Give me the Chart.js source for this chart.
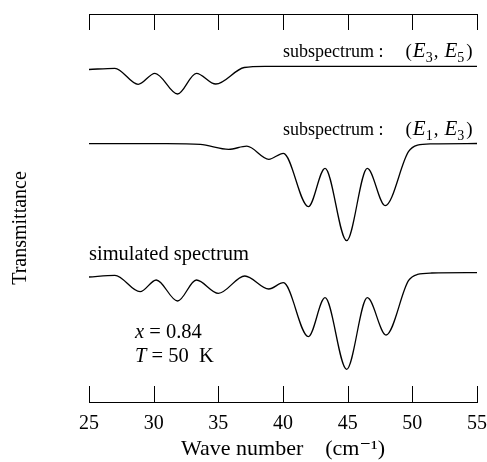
<!DOCTYPE html>
<html>
<head>
<meta charset="utf-8">
<script src="https://cdn.jsdelivr.net/npm/chart.js@4.4.1/dist/chart.umd.min.js"></script>
<style>
  html, body { margin: 0; padding: 0; background: #fff; }
  #wrap { width: 487px; height: 462px; }
</style>
</head>
<body>
<div id="wrap"><canvas id="c" width="487" height="462"></canvas></div>
<script>
// Wave numbers (cm^-1) and transmittance (arbitrary units, offset stacking)
const subE3E5X = [25.0, 27.0, 28.8, 30.1, 31.85, 33.3, 34.8, 37.0, 38.6, 55.0];
const subE3E5Y = [332.5, 333.7, 317.7, 328.7, 308, 328.7, 318, 334.5, 335.7, 335.7];

const subE1E3X = [25.0, 31.0, 33.6, 35.8, 37.2, 38.9, 40.03, 41.96, 43.25, 44.92, 46.52, 47.9, 49.7, 50.4, 51.5, 55.0];
const subE1E3Y = [258.3, 258.3, 257.6, 252.7, 255.8, 242.7, 248.7, 195.3, 233.7, 161.3, 233.7, 196.3, 250.3, 256.8, 258.2, 258.5];

const simX = [25.0, 27.0, 28.95, 30.2, 31.85, 33.3, 35.0, 37.05, 38.9, 40.03, 41.96, 43.25, 44.92, 46.52, 47.97, 49.7, 50.4, 51.5, 55.0];
const simY = [125.0, 126.7, 110.3, 122, 101, 122, 108.7, 126, 113, 119.3, 65.3, 104.3, 32.7, 104.3, 67, 121.3, 127.6, 129, 129.3];

const xTicks = [25, 30, 35, 40, 45, 50, 55];
const xMin = 25, xMax = 55;
const yMin = 0, yMax = 388;

const toPts = (xs, ys) => xs.map((x, i) => ({ x: x, y: ys[i] }));

const SERIF = '"Liberation Serif", "DejaVu Serif", serif';

// segs: {t, size, italic, dy, gap}
function drawRich(ctx, x, y, segs) {
  let cx = x;
  ctx.textBaseline = 'alphabetic';
  ctx.textAlign = 'left';
  ctx.fillStyle = '#000';
  segs.forEach(s => {
    cx += s.gap || 0;
    ctx.font = (s.italic ? 'italic ' : '') + s.size + 'px ' + SERIF;
    ctx.fillText(s.t, cx, y + (s.dy || 0));
    cx += ctx.measureText(s.t).width;
  });
}

function subLabel(a, b) {
  return [
    { t: 'subspectrum :', size: 18 },
    { t: '(', size: 19, gap: 22 },
    { t: 'E', size: 21, italic: true, gap: 1 },
    { t: a, size: 14, dy: 5, gap: 0 },
    { t: ',', size: 19, gap: 1 },
    { t: 'E', size: 21, italic: true, gap: 6 },
    { t: b, size: 14, dy: 5, gap: 0 },
    { t: ')', size: 19, gap: 2 }
  ];
}

const decor = {
  id: 'decor',
  afterDraw(chart) {
    const ctx = chart.ctx;
    const xs = chart.scales.x;
    const a = chart.chartArea;
    ctx.save();
    ctx.strokeStyle = '#000';
    ctx.lineWidth = 1;
    ctx.beginPath();
    xTicks.forEach(v => {
      const px = Math.round(xs.getPixelForValue(v)) + 0.5;
      ctx.moveTo(px, a.bottom); ctx.lineTo(px, a.bottom - 16);
      ctx.moveTo(px, a.top); ctx.lineTo(px, a.top + 16);
    });
    ctx.stroke();

    const lblX = xs.getPixelForValue(40);
    drawRich(ctx, lblX, 57, subLabel('3', '5'));
    drawRich(ctx, lblX, 135, subLabel('1', '3'));
    const left = xs.getPixelForValue(xMin);
    drawRich(ctx, left, 260, [{ t: 'simulated spectrum', size: 20.5 }]);
    drawRich(ctx, left + 46, 338, [{ t: 'x', size: 20.5, italic: true }, { t: ' = 0.84', size: 20.5 }]);
    drawRich(ctx, left + 46, 362, [{ t: 'T', size: 20.5, italic: true }, { t: ' = 50  K', size: 20.5 }]);
    ctx.restore();
  }
};

const lineStyle = {
  borderColor: '#000',
  borderWidth: 1.3,
  pointRadius: 0,
  fill: false,
  cubicInterpolationMode: 'monotone'
};

new Chart(document.getElementById('c'), {
  type: 'line',
  data: {
    datasets: [
      Object.assign({ label: 'subspectrum (E3, E5)', data: toPts(subE3E5X, subE3E5Y) }, lineStyle),
      Object.assign({ label: 'subspectrum (E1, E3)', data: toPts(subE1E3X, subE1E3Y) }, lineStyle),
      Object.assign({ label: 'simulated spectrum', data: toPts(simX, simY) }, lineStyle)
    ]
  },
  options: {
    responsive: false,
    animation: false,
    devicePixelRatio: 1,
    layout: { padding: { left: 0, right: 0, top: 0, bottom: 0 } },
    plugins: { legend: { display: false }, tooltip: { enabled: false } },
    scales: {
      x: {
        type: 'linear', position: 'bottom', min: xMin, max: xMax,
        afterBuildTicks: s => { s.ticks = xTicks.map(v => ({ value: v })); },
        afterFit: s => { s.height = 60; },
        grid: { display: true, drawOnChartArea: false, drawTicks: true, tickLength: 10, color: 'rgba(0,0,0,0)' },
        border: { display: true, color: '#000', width: 1 },
        ticks: { color: '#000', padding: 0, font: { family: SERIF, size: 20 }, maxRotation: 0 },
        title: { display: true, text: 'Wave number    (cm⁻¹)', color: '#000', font: { family: SERIF, size: 22 }, padding: { top: 0, bottom: 0 } }
      },
      x2: {
        type: 'linear', position: 'top', min: xMin, max: xMax,
        afterFit: s => { s.height = 14; },
        grid: { display: false, drawTicks: false },
        border: { display: true, color: '#000', width: 1 },
        ticks: { display: false }
      },
      y: {
        type: 'linear', position: 'left', min: yMin, max: yMax,
        afterFit: s => { s.width = 89; },
        grid: { display: false, drawTicks: false },
        border: { display: false },
        ticks: { display: false },
        title: { display: true, text: 'Transmittance        ', color: '#000', font: { family: SERIF, size: 20 }, padding: { top: 9, bottom: 0 } }
      }
    }
  },
  plugins: [decor]
});
</script>
</body>
</html>
